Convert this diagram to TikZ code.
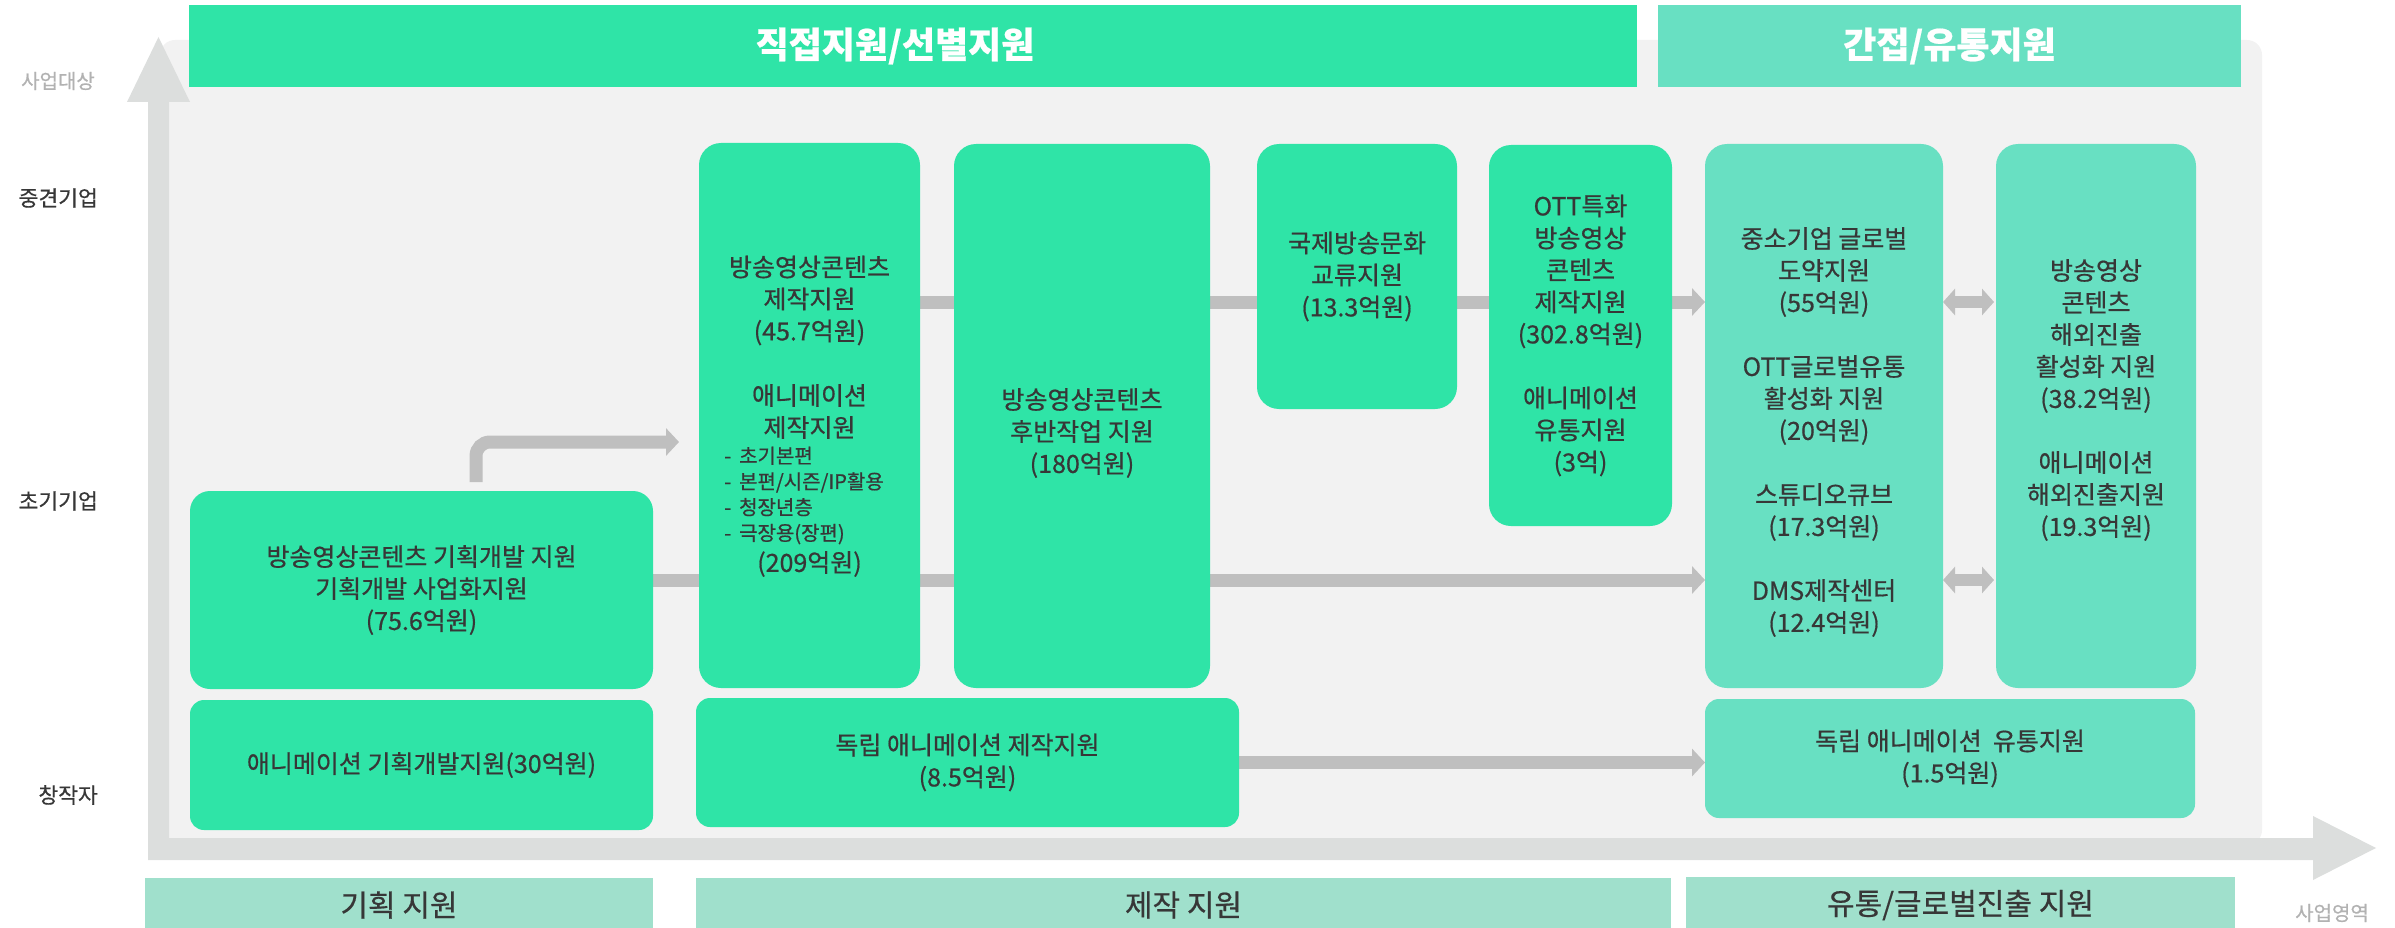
\documentclass[tikz,border=0pt]{standalone}
\usepackage{fontspec}
\setmainfont{Noto Sans CJK KR}[FakeBold=0.6]
\usetikzlibrary{arrows.meta,calc}
\definecolor{mint}{RGB}{47,228,167}
\definecolor{teal2}{RGB}{104,224,194}
\definecolor{labc}{RGB}{160,224,204}
\definecolor{panelc}{RGB}{242,242,242}
\definecolor{axisc}{RGB}{220,222,221}
\definecolor{connc}{RGB}{191,191,191}
\definecolor{txtc}{RGB}{55,55,55}
\definecolor{lightc}{RGB}{178,178,178}
\pgfdeclarelayer{back}
\pgfdeclarelayer{mid}
\pgfsetlayers{back,mid,main}
\tikzset{
  box/.style={draw=none, inner sep=0pt, outer sep=0pt, text=txtc, align=center, font=\fontsize{25}{32}\selectfont},
  dbox/.style={box, fill=mint, rounded corners=22pt},
  ibox/.style={box, fill=teal2, rounded corners=22pt},
  tx/.style={inner sep=0pt, text=txtc, align=center, font=\fontsize{25}{32}\selectfont},
  hdr/.style={fill=#1, inner sep=0pt, text=white, font=\fontsize{36}{40}\selectfont\bfseries},
  hdrtext/.style={inner sep=0pt, text=white, font=\fontsize{36}{40}\selectfont\bfseries},
  lblbox/.style={fill=labc, inner sep=0pt, text=txtc, font=\fontsize{30}{34}\selectfont},
  sidelbl/.style={anchor=east, inner sep=0pt, text=txtc, font=\fontsize{21.5}{25}\selectfont},
  conn/.style={draw=connc, line width=13pt, -{Triangle[length=13pt,width=27pt]}},
  dconn/.style={draw=connc, line width=12pt, {Triangle[length=12pt,width=26pt]}-{Triangle[length=12pt,width=26pt]}},
}
\begin{document}
\begin{tikzpicture}[x=1pt,y=-1pt]
\useasboundingbox (0,0) rectangle (2395,928);
\begin{pgfonlayer}{back}
\fill[panelc, rounded corners=15pt] (160,40) rectangle (2262,845);
\fill[axisc] (148,860) -- (148,102) -- (127,102) -- (158.5,37) -- (190,102) -- (169,102) -- (169,838) -- (2313,838) -- (2313,816) -- (2376,848) -- (2313,880) -- (2313,860) -- cycle;
\end{pgfonlayer}

% headers
\node[hdr=mint, minimum width=1448pt, minimum height=82pt] (hd) at (913,46) {};
\node[hdrtext] (hdt) at (895,46) {직접지원/선별지원};
\node[hdr=teal2, minimum width=583pt, minimum height=82pt] (hi) at (1949.5,46) {간접/유통지원};

% bottom labels
\node[lblbox, minimum width=508pt, minimum height=54pt] (L1) at (399,905) {기획 지원};
\node[lblbox, minimum width=975pt, minimum height=54pt] (L2) at (1183.5,905) {제작 지원};
\node[lblbox, minimum width=549pt, minimum height=56pt] (L3) at (1960.5,905) {유통/글로벌진출 지원};

% side labels
\node[sidelbl, text=lightc, font=\fontsize{20}{24}\selectfont] (s0) at (95,81) {사업대상};
\node[sidelbl] (s1) at (98,198) {중견기업};
\node[sidelbl] (s2) at (98,501) {초기기업};
\node[sidelbl] (s3) at (98,795) {창작자};
\node[inner sep=0pt, text=lightc, font=\fontsize{20}{24}\selectfont] (s4) at (2332,913) {사업영역};

% boxes
\node[dbox, rounded corners=20pt, minimum width=463pt, minimum height=198pt] (P1) at (421.5,590) {방송영상콘텐츠 기획개발 지원\\기획개발 사업화지원\\(75.6억원)};
\node[dbox, rounded corners=14pt, minimum width=463pt, minimum height=130pt] (P2) at (421.5,765) {애니메이션 기획개발지원(30억원)};

\node[dbox, minimum width=221pt, minimum height=545pt] (A) at (809.5,415.5) {};
\node[tx] (A1) at (809.5,300.5) {방송영상콘텐츠\\제작지원\\(45.7억원)};
\node[tx] (A2) at (809.5,411.5) {애니메이션\\제작지원};
\node[tx, align=left, anchor=west, font=\fontsize{20}{25.7}\selectfont] (A3) at (724,495.5) {-\hspace{8pt}초기본편\\-\hspace{8pt}본편/시즌/IP활용\\-\hspace{8pt}청장년층\\-\hspace{8pt}극장용(장편)};
\node[tx] (A4) at (809.5,564) {(209억원)};

\node[dbox, minimum width=256pt, minimum height=544pt] (B) at (1082,416) {};
\node[tx] (B1) at (1082,433) {방송영상콘텐츠\\후반작업 지원\\(180억원)};

\node[dbox, minimum width=200pt, minimum height=265pt] (C) at (1357,276.5) {국제방송문화\\교류지원\\(13.3억원)};

\node[dbox, minimum width=183pt, minimum height=381pt] (D) at (1580.5,335.5) {OTT특화\\방송영상\\콘텐츠\\제작지원\\(302.8억원)\\[32pt]애니메이션\\유통지원\\(3억)};

\node[ibox, minimum width=238pt, minimum height=544pt] (E) at (1824,416) {};
\node[tx] (E1) at (1824,432) {중소기업 글로벌\\도약지원\\(55억원)\\[32pt]OTT글로벌유통\\활성화 지원\\(20억원)\\[32pt]스튜디오큐브\\(17.3억원)\\[32pt]DMS제작센터\\(12.4억원)};

\node[ibox, minimum width=200pt, minimum height=544pt] (F) at (2096,416) {};
\node[tx] (F1) at (2096,400) {방송영상\\콘텐츠\\해외진출\\활성화 지원\\(38.2억원)\\[32pt]애니메이션\\해외진출지원\\(19.3억원)};

\node[ibox, rounded corners=14pt, minimum width=490pt, minimum height=119pt] (G) at (1950,758.5) {독립 애니메이션\ \ 유통지원\\(1.5억원)};
\node[dbox, rounded corners=14pt, minimum width=543pt, minimum height=129pt] (H) at (967.5,762.5) {독립 애니메이션 제작지원\\(8.5억원)};

% connectors
\coordinate (rT) at (0,302);
\coordinate (rB) at (0,580);
\begin{pgfonlayer}{mid}
\draw[conn] (A.east |- rT) -- (E.west |- rT);
\draw[conn] (P1.east |- rB) -- (E.west |- rB);
\draw[conn, rounded corners=14pt] ([xshift=54.5pt,yshift=9pt]P1.north) |- ([xshift=-20pt,yshift=-26.5pt]A.west);
\draw[conn] (H.east) -- (G.west |- H.east);
\draw[dconn] (E.east |- rT) -- ([xshift=-2pt]F.west |- rT);
\draw[dconn] (E.east |- rB) -- ([xshift=-2pt]F.west |- rB);
\end{pgfonlayer}
\end{tikzpicture}
\end{document}
